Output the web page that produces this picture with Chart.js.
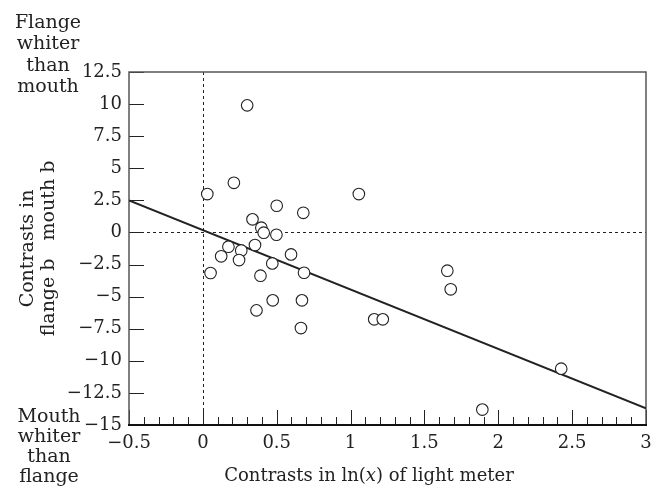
<!DOCTYPE html>
<html>
<head>
<meta charset="utf-8">
<script src="https://cdn.jsdelivr.net/npm/chart.js@4.4.0/dist/chart.umd.min.js"></script>
<style>
  html, body { margin: 0; padding: 0; background: #fff; }
  #wrap { width: 664px; height: 489px; position: relative; }
</style>
</head>
<body>
<div id="wrap"><canvas id="chart" width="664" height="489"></canvas></div>
<script>
// contrasts in ln(x) of light meter vs contrasts in flange b - mouth b
let
  xValues = [0.30, 0.21, 0.03, 1.056, 0.50, 0.68, 0.336, 0.396, 0.412, 0.498,
             0.353, 0.173, 0.26, 0.597, 0.124, 0.245, 0.47, 0.685, 0.052, 0.39,
             0.473, 0.671, 0.363, 0.664, 1.16, 1.218, 1.655, 1.678, 2.426, 1.892],
  yValues = [9.9, 3.87, 2.99, 2.99, 2.08, 1.53, 1.02, 0.37, -0.02, -0.18,
             -0.98, -1.11, -1.40, -1.71, -1.86, -2.15, -2.41, -3.14, -3.16, -3.37,
             -5.29, -5.29, -6.07, -7.45, -6.77, -6.77, -2.98, -4.43, -10.61, -13.8],
  fitX = [-0.5, 3],
  fitY = [2.5, -13.7],
  xTicks = [-0.5, 0, 0.5, 1, 1.5, 2, 2.5, 3],
  yTicks = [12.5, 10, 7.5, 5, 2.5, 0, -2.5, -5, -7.5, -10, -12.5, -15],
  topNote = ['Flange', 'whiter', 'than', 'mouth'],
  bottomNote = ['Mouth', 'whiter', 'than', 'flange'],
  xTitle = ['Contrasts in ln(', 'x', ') of light meter'],
  serif = '"DejaVu Serif", "Liberation Serif", serif',
  ink = '#222';

function fmt(v) {
  let s = String(Math.round(v * 10) / 10);
  return s.replace('-', '\u2212');
}

// frame, ticks, zero lines, x title and corner notes
let decor = {
  id: 'decor',
  beforeDatasetsDraw(chart) {
    let
      ctx = chart.ctx,
      a = chart.chartArea,
      xs = chart.scales.x,
      ys = chart.scales.y;

    ctx.save();
    ctx.strokeStyle = ink;
    ctx.lineWidth = 1;
    ctx.setLineDash([3, 3]);
    ctx.beginPath();
    ctx.moveTo(Math.round(xs.getPixelForValue(0)) + 0.5, a.top);
    ctx.lineTo(Math.round(xs.getPixelForValue(0)) + 0.5, a.bottom);
    ctx.moveTo(a.left, Math.round(ys.getPixelForValue(0)) + 0.5);
    ctx.lineTo(a.right, Math.round(ys.getPixelForValue(0)) + 0.5);
    ctx.stroke();
    ctx.setLineDash([]);

    // minor and major x ticks, inward
    ctx.beginPath();
    for (let i = -5; i <= 30; i += 1) {
      let px = Math.round(xs.getPixelForValue(i / 10)) + 0.5;
      let len = (i % 5 === 0) ? 15 : 8;
      ctx.moveTo(px, a.bottom);
      ctx.lineTo(px, a.bottom - len);
    }
    // y ticks, inward
    yTicks.forEach(function(v) {
      let py = Math.round(ys.getPixelForValue(v)) + 0.5;
      ctx.moveTo(a.left, py);
      ctx.lineTo(a.left + 15, py);
    });
    ctx.stroke();

    // frame
    ctx.strokeStyle = '#555';
    ctx.lineWidth = 1.5;
    ctx.strokeRect(a.left, a.top, a.right - a.left, a.bottom - a.top);
    ctx.strokeStyle = '#111';
    ctx.lineWidth = 2;
    ctx.beginPath();
    ctx.moveTo(a.left - 1, a.bottom);
    ctx.lineTo(a.right + 1, a.bottom);
    ctx.stroke();

    // corner notes
    ctx.fillStyle = ink;
    ctx.font = '19px ' + serif;
    ctx.textAlign = 'center';
    ctx.textBaseline = 'alphabetic';
    topNote.forEach(function(t, i) {
      ctx.fillText(t, 48, 28 + i * 21.3);
    });
    bottomNote.forEach(function(t, i) {
      ctx.fillText(t, 49, 422 + i * 20);
    });

    // x title with italic x
    let
      fonts = ['18px ' + serif, 'italic 18px ' + serif, '18px ' + serif],
      widths = xTitle.map(function(t, i) { ctx.font = fonts[i]; return ctx.measureText(t).width; }),
      total = widths.reduce(function(s, w) { return s + w; }, 0),
      x = 369 - total / 2;
    ctx.textAlign = 'left';
    xTitle.forEach(function(t, i) {
      ctx.font = fonts[i];
      ctx.fillText(t, x, 481);
      x += widths[i];
    });
    ctx.restore();
  }
};

new Chart(document.getElementById('chart').getContext('2d'), {
  type: 'scatter',
  data: {
    datasets: [
      {
        data: xValues.map(function(x, i) { return { x: x, y: yValues[i] }; }),
        pointRadius: 5.8,
        pointBorderWidth: 1.1,
        pointBorderColor: ink,
        pointBackgroundColor: '#fff'
      },
      {
        type: 'line',
        data: fitX.map(function(x, i) { return { x: x, y: fitY[i] }; }),
        borderColor: ink,
        borderWidth: 2,
        pointRadius: 0,
        fill: false
      }
    ]
  },
  plugins: [decor],
  options: {
    responsive: false,
    animation: false,
    devicePixelRatio: 1,
    layout: { padding: { top: 72, right: 18, left: 0, bottom: 0 } },
    plugins: { legend: { display: false }, tooltip: { enabled: false } },
    scales: {
      x: {
        type: 'linear',
        min: -0.5,
        max: 3,
        afterBuildTicks: function(scale) {
          scale.ticks = xTicks.map(function(v) { return { value: v }; });
        },
        afterFit: function(scale) { scale.height = 489 - 425; },
        grid: { display: false, drawTicks: false },
        border: { display: false },
        ticks: {
          color: ink,
          padding: 8,
          maxRotation: 0,
          autoSkip: false,
          font: { family: serif, size: 18 },
          callback: function(v) { return fmt(v); }
        },
        title: { display: false }
      },
      y: {
        type: 'linear',
        min: -15,
        max: 12.5,
        afterBuildTicks: function(scale) {
          scale.ticks = yTicks.map(function(v) { return { value: v }; });
        },
        afterFit: function(scale) { scale.width = 129; },
        grid: { display: false, drawTicks: false },
        border: { display: false },
        ticks: {
          color: ink,
          padding: 7,
          autoSkip: false,
          font: { family: serif, size: 18 },
          callback: function(v) { return fmt(v); }
        },
        title: {
          display: true,
          text: ['Contrasts in', 'flange b   mouth b'],
          color: ink,
          padding: { top: 18, bottom: 0 },
          font: { family: serif, size: 19, lineHeight: 1.1 }
        }
      }
    }
  }
});
</script>
</body>
</html>
